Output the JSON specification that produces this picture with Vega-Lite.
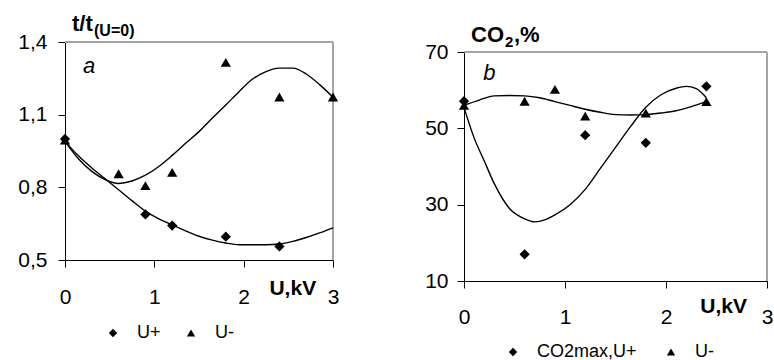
{
  "$schema": "https://vega.github.io/schema/vega-lite/v6.json",
  "padding": {"left": 17, "top": 13, "right": 0, "bottom": 0},
  "bounds": "flush",
  "spacing": 131,
  "config": {
    "font": "Liberation Sans",
    "view": {"stroke": null},
    "axis": {"grid": false, "domainColor": "#000000", "tickColor": "#000000", "labelColor": "#000000", "labelFontSize": 21, "labelFont": "Liberation Sans", "tickSize": 7, "domainWidth": 1, "tickWidth": 1, "labelFlush": false, "labelOverlap": false},
    "legend": {"labelFont": "Liberation Sans", "labelColor": "#000000", "symbolFillColor": "#000000", "symbolStrokeColor": "#000000", "padding": 0, "rowPadding": 0}
  },
  "datasets": {
    "one": [{}],
    "ptsA": [
      {"U": 0, "v": 1.0, "series": "U+"},
      {"U": 0.9, "v": 0.688, "series": "U+"},
      {"U": 1.2, "v": 0.642, "series": "U+"},
      {"U": 1.8, "v": 0.596, "series": "U+"},
      {"U": 2.4, "v": 0.556, "series": "U+"},
      {"U": 0, "v": 0.995, "series": "U-"},
      {"U": 0.6, "v": 0.856, "series": "U-"},
      {"U": 0.9, "v": 0.807, "series": "U-"},
      {"U": 1.2, "v": 0.862, "series": "U-"},
      {"U": 1.8, "v": 1.316, "series": "U-"},
      {"U": 2.4, "v": 1.173, "series": "U-"},
      {"U": 3.0, "v": 1.173, "series": "U-"}
    ],
    "curA": [
      {"U": 0, "v": 0.99, "series": "U+"},
      {"U": 0.15, "v": 0.93, "series": "U+"},
      {"U": 0.3, "v": 0.88, "series": "U+"},
      {"U": 0.45, "v": 0.835, "series": "U+"},
      {"U": 0.6, "v": 0.79, "series": "U+"},
      {"U": 0.75, "v": 0.745, "series": "U+"},
      {"U": 0.9, "v": 0.702, "series": "U+"},
      {"U": 1.05, "v": 0.67, "series": "U+"},
      {"U": 1.2, "v": 0.645, "series": "U+"},
      {"U": 1.35, "v": 0.62, "series": "U+"},
      {"U": 1.5, "v": 0.598, "series": "U+"},
      {"U": 1.65, "v": 0.582, "series": "U+"},
      {"U": 1.8, "v": 0.57, "series": "U+"},
      {"U": 1.95, "v": 0.563, "series": "U+"},
      {"U": 2.1, "v": 0.563, "series": "U+"},
      {"U": 2.25, "v": 0.563, "series": "U+"},
      {"U": 2.4, "v": 0.566, "series": "U+"},
      {"U": 2.55, "v": 0.577, "series": "U+"},
      {"U": 2.7, "v": 0.593, "series": "U+"},
      {"U": 2.85, "v": 0.612, "series": "U+"},
      {"U": 3.0, "v": 0.633, "series": "U+"},
      {"U": 0, "v": 0.99, "series": "U-"},
      {"U": 0.15, "v": 0.918, "series": "U-"},
      {"U": 0.3, "v": 0.866, "series": "U-"},
      {"U": 0.45, "v": 0.832, "series": "U-"},
      {"U": 0.6, "v": 0.816, "series": "U-"},
      {"U": 0.75, "v": 0.826, "series": "U-"},
      {"U": 0.9, "v": 0.85, "series": "U-"},
      {"U": 1.05, "v": 0.886, "series": "U-"},
      {"U": 1.2, "v": 0.932, "series": "U-"},
      {"U": 1.35, "v": 0.982, "series": "U-"},
      {"U": 1.5, "v": 1.03, "series": "U-"},
      {"U": 1.65, "v": 1.086, "series": "U-"},
      {"U": 1.8, "v": 1.14, "series": "U-"},
      {"U": 1.95, "v": 1.196, "series": "U-"},
      {"U": 2.1, "v": 1.247, "series": "U-"},
      {"U": 2.25, "v": 1.278, "series": "U-"},
      {"U": 2.4, "v": 1.292, "series": "U-"},
      {"U": 2.55, "v": 1.292, "series": "U-"},
      {"U": 2.7, "v": 1.268, "series": "U-"},
      {"U": 2.85, "v": 1.224, "series": "U-"},
      {"U": 3.0, "v": 1.172, "series": "U-"}
    ],
    "ptsB": [
      {"U": 0, "v": 57.1, "series": "CO2max,U+"},
      {"U": 0.6, "v": 17, "series": "CO2max,U+"},
      {"U": 1.2, "v": 48.2, "series": "CO2max,U+"},
      {"U": 1.8, "v": 46.2, "series": "CO2max,U+"},
      {"U": 2.4, "v": 61, "series": "CO2max,U+"},
      {"U": 0, "v": 56, "series": "U-"},
      {"U": 0.6, "v": 57.1, "series": "U-"},
      {"U": 0.9, "v": 60.2, "series": "U-"},
      {"U": 1.2, "v": 53.2, "series": "U-"},
      {"U": 1.8, "v": 54, "series": "U-"},
      {"U": 2.4, "v": 57, "series": "U-"}
    ],
    "curB": [
      {"U": 0, "v": 55.5, "series": "CO2max,U+"},
      {"U": 0.1, "v": 47.5, "series": "CO2max,U+"},
      {"U": 0.2, "v": 41.5, "series": "CO2max,U+"},
      {"U": 0.3, "v": 35.5, "series": "CO2max,U+"},
      {"U": 0.45, "v": 29, "series": "CO2max,U+"},
      {"U": 0.6, "v": 26.3, "series": "CO2max,U+"},
      {"U": 0.7, "v": 25.5, "series": "CO2max,U+"},
      {"U": 0.8, "v": 26, "series": "CO2max,U+"},
      {"U": 0.9, "v": 27.3, "series": "CO2max,U+"},
      {"U": 1.05, "v": 30, "series": "CO2max,U+"},
      {"U": 1.2, "v": 34, "series": "CO2max,U+"},
      {"U": 1.35, "v": 39.5, "series": "CO2max,U+"},
      {"U": 1.5, "v": 45, "series": "CO2max,U+"},
      {"U": 1.65, "v": 50.5, "series": "CO2max,U+"},
      {"U": 1.8, "v": 55.5, "series": "CO2max,U+"},
      {"U": 1.95, "v": 58.8, "series": "CO2max,U+"},
      {"U": 2.1, "v": 60.5, "series": "CO2max,U+"},
      {"U": 2.2, "v": 61, "series": "CO2max,U+"},
      {"U": 2.3, "v": 60.4, "series": "CO2max,U+"},
      {"U": 2.4, "v": 58, "series": "CO2max,U+"},
      {"U": 0, "v": 56, "series": "U-"},
      {"U": 0.15, "v": 57.4, "series": "U-"},
      {"U": 0.3, "v": 58.5, "series": "U-"},
      {"U": 0.45, "v": 58.6, "series": "U-"},
      {"U": 0.6, "v": 58.5, "series": "U-"},
      {"U": 0.75, "v": 58, "series": "U-"},
      {"U": 0.9, "v": 57, "series": "U-"},
      {"U": 1.05, "v": 56, "series": "U-"},
      {"U": 1.2, "v": 55, "series": "U-"},
      {"U": 1.35, "v": 54.2, "series": "U-"},
      {"U": 1.5, "v": 53.6, "series": "U-"},
      {"U": 1.65, "v": 53.5, "series": "U-"},
      {"U": 1.8, "v": 53.6, "series": "U-"},
      {"U": 1.95, "v": 54, "series": "U-"},
      {"U": 2.1, "v": 54.6, "series": "U-"},
      {"U": 2.25, "v": 55.7, "series": "U-"},
      {"U": 2.4, "v": 57, "series": "U-"}
    ]
  },
  "resolve": {"scale": {"shape": "independent"}, "legend": {"shape": "independent"}},
  "hconcat": [
    {
      "width": 268,
      "height": 218,
      "data": {"name": "one"},
      "encoding": {
        "x": {"type": "quantitative", "scale": {"domain": [0, 3], "nice": false, "zero": false}, "axis": {"values": [0, 1, 2, 3], "labelPadding": 19, "title": null}},
        "y": {"type": "quantitative", "scale": {"domain": [0.5, 1.4], "nice": false, "zero": false}, "axis": {"values": [0.5, 0.8, 1.1, 1.4], "labelExpr": "replace(format(datum.value, '.1f'), '.', ',')", "labelPadding": 11, "title": null}}
      },
      "layer": [
        {"mark": {"type": "rule", "color": "#a3a3a3", "strokeWidth": 2}, "encoding": {"x": {"datum": 0}, "x2": {"datum": 3}, "y": {"datum": 1.4}}},
        {"mark": {"type": "rule", "color": "#a3a3a3", "strokeWidth": 2}, "encoding": {"x": {"datum": 3}, "y": {"datum": 0.5}, "y2": {"datum": 1.4}}},
        {"data": {"name": "curA"}, "mark": {"type": "line", "color": "#000000", "strokeWidth": 1.4, "interpolate": "monotone"}, "encoding": {"x": {"field": "U"}, "y": {"field": "v"}, "detail": {"field": "series"}}},
        {"data": {"name": "ptsA"}, "mark": {"type": "point", "filled": true, "color": "#000000", "opacity": 1, "size": 105},
         "encoding": {"x": {"field": "U"}, "y": {"field": "v"},
           "shape": {"field": "series", "type": "nominal", "scale": {"domain": ["U+", "U-"], "range": ["diamond", "triangle-up"]},
             "legend": {"title": null, "orient": "none", "direction": "horizontal", "legendX": 39, "legendY": 282, "labelOffset": 15, "columnPadding": 21, "labelFontSize": 18, "symbolSize": 70}}}},
        {"mark": {"type": "text", "text": "a", "fontSize": 22, "fontStyle": "italic", "align": "center", "baseline": "middle", "color": "#000000"}, "encoding": {"x": {"datum": 0.27}, "y": {"datum": 1.3}}},
        {"mark": {"type": "text", "text": "t/t", "fontSize": 22, "fontWeight": "bold", "align": "left", "baseline": "alphabetic", "dx": 7, "dy": -11, "color": "#000000"}, "encoding": {"x": {"datum": 0}, "y": {"datum": 1.4}}},
        {"mark": {"type": "text", "text": "(U=0)", "fontSize": 16, "fontWeight": "bold", "align": "left", "baseline": "alphabetic", "dx": 29, "dy": -6, "color": "#000000"}, "encoding": {"x": {"datum": 0}, "y": {"datum": 1.4}}},
        {"mark": {"type": "text", "text": "U,kV", "fontSize": 21, "fontWeight": "bold", "align": "center", "baseline": "alphabetic", "dy": 35, "color": "#000000"}, "encoding": {"x": {"datum": 2.55}, "y": {"datum": 0.5}}}
      ]
    },
    {
      "width": 303,
      "height": 239,
      "data": {"name": "one"},
      "encoding": {
        "x": {"type": "quantitative", "scale": {"domain": [0, 3], "nice": false, "zero": false}, "axis": {"values": [0, 1, 2, 3], "labelPadding": 18, "title": null}},
        "y": {"type": "quantitative", "scale": {"domain": [10, 70], "nice": false, "zero": false, "range": [239, 10]}, "axis": {"values": [10, 30, 50, 70], "format": "d", "labelPadding": 9, "title": null}}
      },
      "layer": [
        {"mark": {"type": "rule", "color": "#a3a3a3", "strokeWidth": 2}, "encoding": {"x": {"datum": 0}, "x2": {"datum": 3}, "y": {"datum": 70}}},
        {"mark": {"type": "rule", "color": "#a3a3a3", "strokeWidth": 2}, "encoding": {"x": {"datum": 3}, "y": {"datum": 10}, "y2": {"datum": 70}}},
        {"data": {"name": "curB"}, "mark": {"type": "line", "color": "#000000", "strokeWidth": 1.4, "interpolate": "monotone"}, "encoding": {"x": {"field": "U"}, "y": {"field": "v"}, "detail": {"field": "series"}}},
        {"data": {"name": "ptsB"}, "mark": {"type": "point", "filled": true, "color": "#000000", "opacity": 1, "size": 105},
         "encoding": {"x": {"field": "U"}, "y": {"field": "v"},
           "shape": {"field": "series", "type": "nominal", "scale": {"domain": ["CO2max,U+", "U-"], "range": ["diamond", "triangle-up"]},
             "legend": {"title": null, "orient": "none", "direction": "horizontal", "legendX": 40, "legendY": 301, "labelOffset": 15, "columnPadding": 25, "labelFontSize": 18, "symbolSize": 70}}}},
        {"mark": {"type": "text", "text": "b", "fontSize": 22, "fontStyle": "italic", "align": "center", "baseline": "middle", "color": "#000000"}, "encoding": {"x": {"datum": 0.25}, "y": {"datum": 64.6}}},
        {"mark": {"type": "text", "text": "CO", "fontSize": 22, "fontWeight": "bold", "align": "left", "baseline": "alphabetic", "dx": 7, "dy": -10, "color": "#000000"}, "encoding": {"x": {"datum": 0}, "y": {"datum": 70}}},
        {"mark": {"type": "text", "text": "2", "fontSize": 15, "fontWeight": "bold", "align": "left", "baseline": "alphabetic", "dx": 41, "dy": -5, "color": "#000000"}, "encoding": {"x": {"datum": 0}, "y": {"datum": 70}}},
        {"mark": {"type": "text", "text": ",%", "fontSize": 22, "fontWeight": "bold", "align": "left", "baseline": "alphabetic", "dx": 50, "dy": -10, "color": "#000000"}, "encoding": {"x": {"datum": 0}, "y": {"datum": 70}}},
        {"mark": {"type": "text", "text": "U,kV", "fontSize": 21, "fontWeight": "bold", "align": "center", "baseline": "alphabetic", "dy": 32, "color": "#000000"}, "encoding": {"x": {"datum": 2.57}, "y": {"datum": 10}}}
      ]
    }
  ]
}
